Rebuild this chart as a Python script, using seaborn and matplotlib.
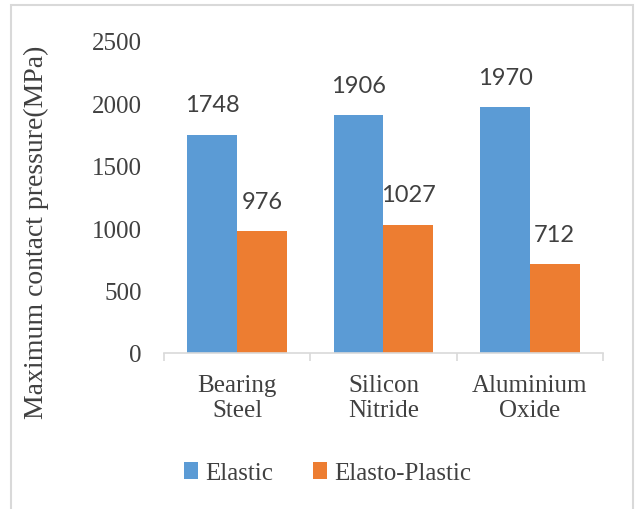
import matplotlib
matplotlib.use("Agg")
import matplotlib.pyplot as plt
from matplotlib.patches import Patch, Rectangle
from matplotlib.ticker import FixedLocator
import pandas as pd
import seaborn as sns

# Contact pressure results per bearing material
materials = ["Bearing\nSteel", "Silicon\nNitride", "Aluminium\nOxide"]
elastic = [1748, 1906, 1970]
elasto_plastic = [976, 1027, 712]
series_names = ["Elastic", "Elasto-Plastic"]
y_ticks = [0, 500, 1000, 1500, 2000, 2500]

colors = ["#5B9BD5", "#ED7D31"]
text_color = "#404040"
serif = ["Liberation Serif", "DejaVu Serif"]
sans = ["Lato", "DejaVu Sans"]

df = pd.DataFrame({
    "material": materials * 2,
    "series": [series_names[0]] * 3 + [series_names[1]] * 3,
    "value": elastic + elasto_plastic,
})

sns.set_theme(style="white")
plt.rcParams["font.family"] = serif

fig = plt.figure(figsize=(6.35, 5.10), dpi=100)
ax = fig.add_axes([164 / 635, 1 - 354 / 510, (603 - 164) / 635, (354 - 42) / 510])

sns.barplot(data=df, x="material", y="value", hue="series", order=materials,
            hue_order=series_names, palette=colors, width=0.68, gap=0,
            saturation=1, errorbar=None, ax=ax, legend=False, linewidth=0)

# value labels above each bar
for container, vals in zip(ax.containers, [elastic, elasto_plastic]):
    for bar, v in zip(container, vals):
        ax.annotate(f"{v}", (bar.get_x() + bar.get_width() / 2, v),
                    xytext=(0, 14), textcoords="offset points",
                    ha="center", va="bottom", fontsize=17,
                    family=sans, color=text_color)

ax.set_xlim(-0.5, 2.5)
ax.set_ylim(0, 2500)
ax.set_yticks(y_ticks)
ax.set_yticklabels([str(t) for t in y_ticks], fontsize=18, color=text_color)
ax.tick_params(axis="y", length=0, pad=16)
ax.set_xlabel("")
ax.set_ylabel("")
ax.tick_params(axis="x", which="major", length=0, pad=15, labelsize=18,
               labelcolor=text_color)
ax.xaxis.set_minor_locator(FixedLocator([-0.5, 0.5, 1.5, 2.5]))
ax.tick_params(axis="x", which="minor", length=6, width=1.2, color="#D9D9D9",
               direction="out", bottom=True)

for side in ["top", "right", "left"]:
    ax.spines[side].set_visible(False)
ax.spines["bottom"].set_color("#D9D9D9")
ax.spines["bottom"].set_linewidth(1.2)
ax.grid(False)

fig.text(36 / 635, 1 - 232 / 510, "Maximum contact pressure(MPa)",
         rotation=90, ha="center", va="center", fontsize=20,
         color=text_color, family=serif)

handles = [Patch(facecolor=c, edgecolor="none", label=n)
           for c, n in zip(colors, series_names)]
fig.legend(handles=handles, loc="center", bbox_to_anchor=(328 / 635, 1 - 474 / 510),
           ncol=2, frameon=False, fontsize=18, handlelength=0.55,
           handleheight=0.7, handletextpad=0.3, columnspacing=1.6,
           labelcolor=text_color)

# outer chart frame
fig.add_artist(Rectangle((11 / 635, -0.05), (633 - 11) / 635, 1.05 - 6 / 510,
                         transform=fig.transFigure, fill=False,
                         edgecolor="#D9D9D9", linewidth=1.5))

fig.savefig("out.png", dpi=100)
